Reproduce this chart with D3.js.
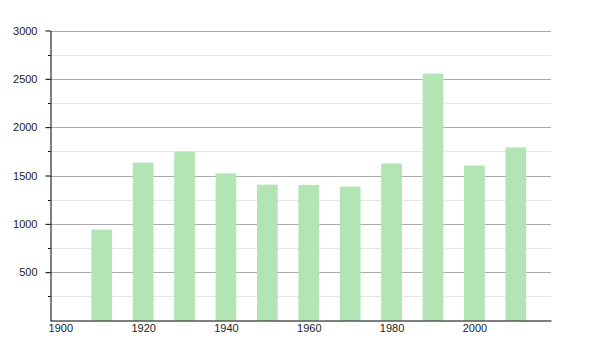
<!DOCTYPE html>
<html>
<head>
<meta charset="utf-8">
<script src="https://cdn.jsdelivr.net/npm/d3@7"></script>
<style>
  body { margin: 0; background: #fff; }
  text { font-family: "Liberation Sans", Arial, sans-serif; }
</style>
</head>
<body>
<div id="chart"></div>
<script>
(function() {
  'use strict';

  // Data
  var years = [1910, 1920, 1930, 1940, 1950, 1960, 1970, 1980, 1990, 2000, 2010];
  var population = [939, 1633, 1747, 1522, 1405, 1402, 1385, 1624, 2554, 1603, 1790];
  var xTicks = [1900, 1920, 1940, 1960, 1980, 2000];
  var yMajor = [500, 1000, 1500, 2000, 2500, 3000];
  var yMinor = [250, 750, 1250, 1750, 2250, 2750];

  var width = 600, height = 350;
  var left = 50, right = 551, top = 30.5, bottom = 320.5;

  var svg = d3.select('#chart').append('svg')
    .attr('width', width)
    .attr('height', height);

  var x = d3.scaleLinear().domain([1897.5, 2018.5]).range([left, right]);
  var y = d3.scaleLinear().domain([0, 3000]).range([bottom, top]);
  var barW = x(1905) - x(1900);

  // Minor grid
  svg.append('g').selectAll('line')
    .data(yMinor)
    .join('line')
    .attr('x1', left).attr('x2', right)
    .attr('y1', function(d) { return Math.round(y(d)) + 0.5; })
    .attr('y2', function(d) { return Math.round(y(d)) + 0.5; })
    .style('stroke', '#e6e6e6')
    .style('stroke-width', 1);

  // Major grid
  svg.append('g').selectAll('line')
    .data(yMajor)
    .join('line')
    .attr('x1', left).attr('x2', right)
    .attr('y1', function(d) { return Math.round(y(d)) + 0.5; })
    .attr('y2', function(d) { return Math.round(y(d)) + 0.5; })
    .style('stroke', '#ababab')
    .style('stroke-width', 1);

  // Bars
  svg.append('g').selectAll('rect')
    .data(years)
    .join('rect')
    .attr('x', function(d) { return x(d) - barW / 2; })
    .attr('width', barW)
    .attr('y', function(d, i) { return y(population[i]); })
    .attr('height', function(d, i) { return y(0) - y(population[i]); })
    .style('fill', '#b2e4b4');

  // Y axis
  var yAxis = svg.append('g')
    .attr('transform', 'translate(' + (left + 0.5) + ',0)')
    .call(d3.axisLeft(y).tickValues(yMajor).tickFormat(d3.format('d'))
      .tickSize(5).tickSizeOuter(0).tickPadding(8));
  yAxis.select('.domain').style('stroke', '#000');
  yAxis.selectAll('.tick line').style('stroke', '#000');
  yAxis.selectAll('text').style('font-size', '11px').style('fill', '#222');

  // Minor ticks on y axis
  svg.append('g').selectAll('line')
    .data(yMinor)
    .join('line')
    .attr('x1', left - 2).attr('x2', left + 0.5)
    .attr('y1', function(d) { return Math.round(y(d)) + 0.5; })
    .attr('y2', function(d) { return Math.round(y(d)) + 0.5; })
    .style('stroke', '#000');

  // X axis
  var xAxis = svg.append('g')
    .attr('transform', 'translate(0,' + (bottom) + ')')
    .call(d3.axisBottom(x).tickValues(xTicks).tickFormat(d3.format('d'))
      .tickSize(0).tickSizeOuter(0).tickPadding(4));
  xAxis.select('.domain').style('stroke', '#000');
  xAxis.selectAll('text').style('font-size', '11px').style('fill', '#222');
})();
</script>
</body>
</html>
